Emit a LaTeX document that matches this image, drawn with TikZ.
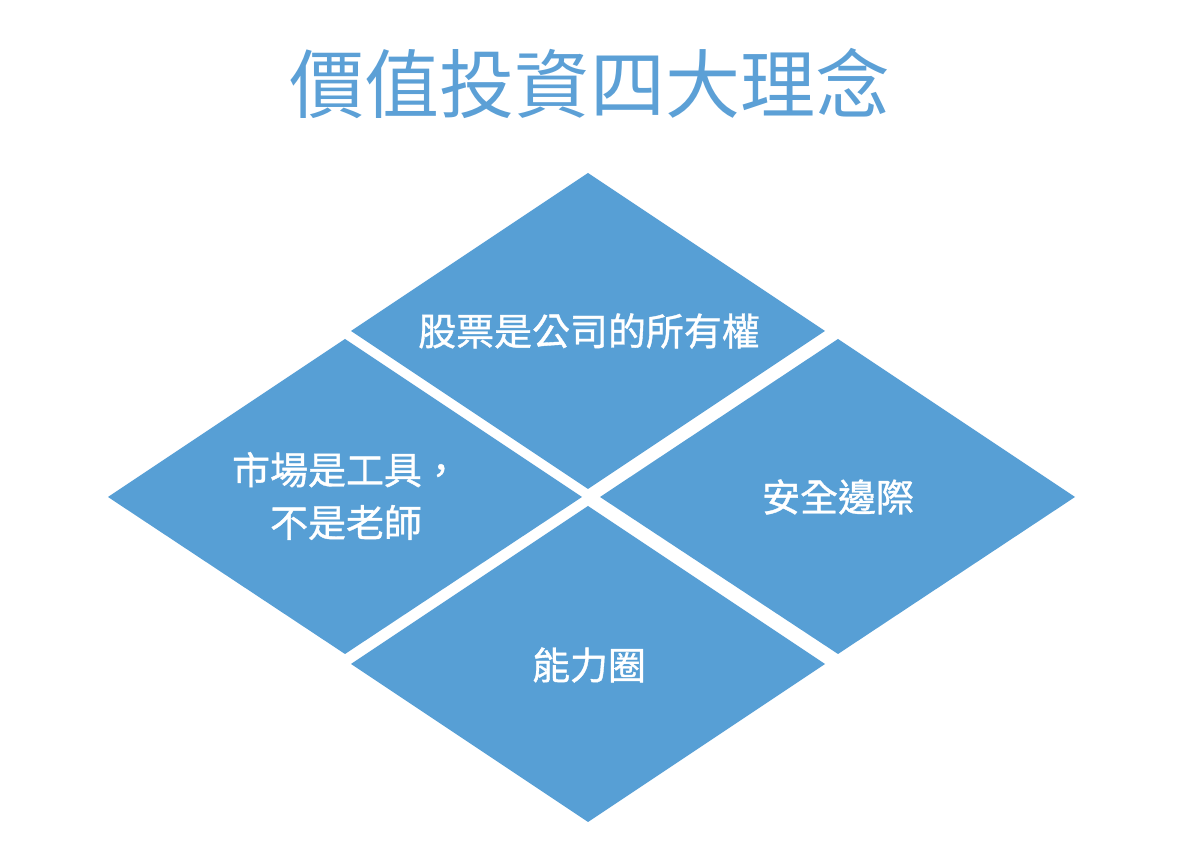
\documentclass[tikz,border=0pt]{standalone}
\usepackage{fontspec}
\newfontfamily\cjk{Noto Sans CJK TC}
\newfontfamily\cjkmed[FakeBold=1]{Noto Sans CJK TC}
\definecolor{tileblue}{RGB}{87,159,213}
\definecolor{titleblue}{RGB}{92,160,214}
\begin{document}
\begin{tikzpicture}[x=0.02cm, y=-0.02cm,
    tile/.style={fill=tileblue},
    label/.style={text=white, align=center, font=\cjkmed\fontsize{21.6}{30}\selectfont}]
    \useasboundingbox (0,0) rectangle (1198,864);
    % title
    \node[text=titleblue, font=\cjk\fontsize{42.7}{50}\selectfont] (title) at (590,84) {價值投資四大理念};
    % four tiles of the big diamond
    \fill[tile] (588,173) -- (825,331) -- (588,489) -- (351,331) -- cycle;
    \fill[tile] (108,497) -- (345,339) -- (582,497) -- (345,654) -- cycle;
    \fill[tile] (1075,497) -- (838,339) -- (600,497) -- (838,654) -- cycle;
    \fill[tile] (588,822) -- (825,664) -- (588,506) -- (351,664) -- cycle;
    \node[label] (T) at (589,331) {股票是公司的所有權};
    \node[label] (L) at (346,496) {市場是工具，\\不是老師};
    \node[label] (R) at (838,497) {安全邊際};
    \node[label] (B) at (589,665) {能力圈};
\end{tikzpicture}
\end{document}
